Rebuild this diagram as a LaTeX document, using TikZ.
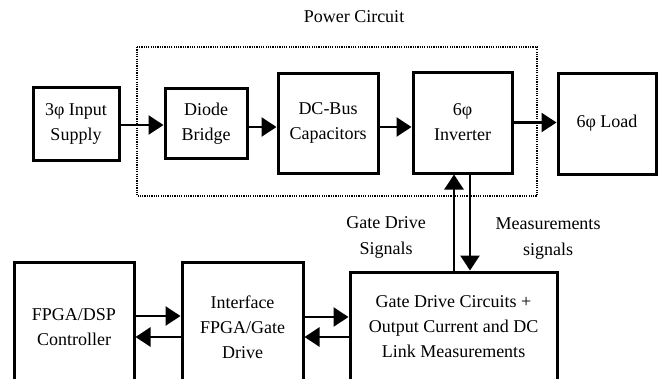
\documentclass[tikz,border=0pt]{standalone}
\usepackage{fontspec}
\setmainfont{Liberation Serif}
\usetikzlibrary{arrows.meta}
\begin{document}
\begin{tikzpicture}[x=1pt,y=-1pt,
  blk/.style={draw,line width=3pt,align=center,inner sep=0pt,font=\fontsize{18}{25}\selectfont},
  arr/.style={line width=2.6pt,-{Triangle[length=15pt,width=19pt]}},
  lbl/.style={align=center,font=\fontsize{18}{26}\selectfont}]
\clip (0,0) rectangle (660,378);
\fill[white] (0,0) rectangle (660,378);
% dotted power circuit frame
\draw[line width=2.4pt,dash pattern=on 1.2pt off 1.1pt] (137,47) rectangle (537,196);
\node[lbl] (pc) at (354,17) {Power Circuit};
% top row
\node[blk,minimum width=86,minimum height=73] (in) at (76,123.5) {3φ Input\\Supply};
\node[blk,minimum width=82,minimum height=70] (diode) at (206,123.5) {Diode\\Bridge};
\node[blk,minimum width=100,minimum height=100] (dc) at (328,123) {DC-Bus\\Capacitors};
\node[blk,minimum width=99,minimum height=101] (inv) at (462.5,122.5) {6φ\\Inverter};
\node[blk,minimum width=98,minimum height=101] (load) at (607,123.5) {6φ Load};
% bottom row
\node[blk,minimum width=120,minimum height=130] (fpga) at (74,327) {FPGA/DSP\\Controller};
\node[blk,minimum width=121,minimum height=130] (intf) at (242.5,327) {Interface\\FPGA/Gate\\Drive};
\node[blk,minimum width=207,minimum height=110] (gate) at (453.5,327) {Gate Drive Circuits +\\Output Current and DC\\Link Measurements};
% top arrows
\draw[arr] ([yshift=-1.5pt]in.east) -- ([yshift=-1.5pt]in.east -| diode.west);
\draw[arr] ([yshift=-3.5pt]diode.east) -- ([yshift=-3.5pt]diode.east -| dc.west);
\draw[arr] ([yshift=-4pt]dc.east) -- ([yshift=-4pt]dc.east -| inv.west);
\draw[arr] (inv.east) -- (inv.east -| load.west);
% vertical arrows
\draw[arr] ([xshift=-8.5pt]inv.south |- gate.north) -- ([xshift=-8.5pt]inv.south);
\draw[arr] ([xshift=7.5pt]inv.south) -- ([xshift=7.5pt]inv.south |- gate.north);
% bottom arrows
\draw[arr] ([yshift=11pt]fpga.east) -- ([yshift=11pt]fpga.east -| intf.west);
\draw[arr] ([yshift=-10pt]intf.west) -- ([yshift=-10pt]intf.west -| fpga.east);
\draw[arr] ([yshift=10pt]intf.east) -- ([yshift=10pt]intf.east -| gate.west);
\draw[arr] ([yshift=-10pt]gate.west) -- ([yshift=-10pt]gate.west -| intf.east);
% labels
\node[lbl] (gds) at (386,237) {Gate Drive\\Signals};
\node[lbl] (ms) at (548,239) {Measurements\\signals};
\end{tikzpicture}
\end{document}
